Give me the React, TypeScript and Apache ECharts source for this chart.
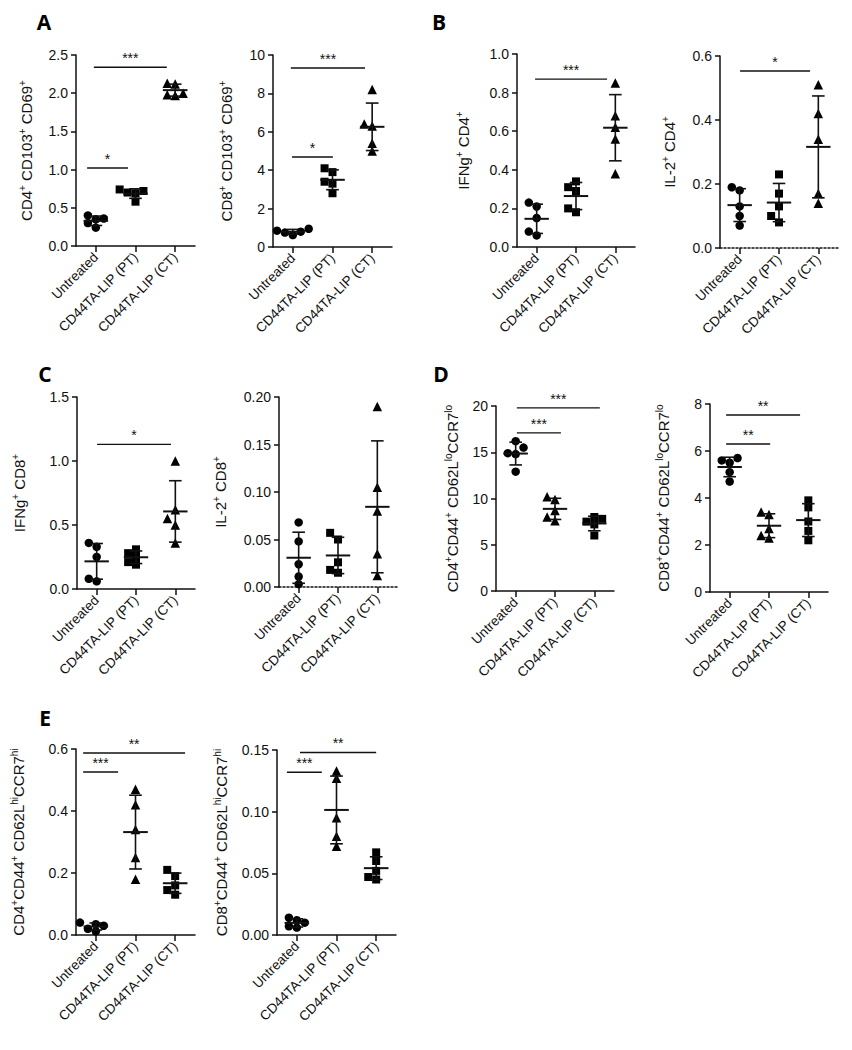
import React, { useEffect, useRef } from 'react';
import * as echarts from 'echarts';

const FONT = '"Liberation Sans", Arial, Helvetica, sans-serif';
const INK = '#111111';

const categories = ['Untreated', 'CD44TA-LIP (PT)', 'CD44TA-LIP (CT)'];

// Values per group: [Untreated, CD44TA-LIP (PT), CD44TA-LIP (CT)]
const cd4Cd103Cd69 = [
  [0.40, 0.36, 0.35, 0.30, 0.24],
  [0.74, 0.72, 0.70, 0.69, 0.58],
  [2.13, 2.12, 2.00, 1.98, 1.97],
];
const cd8Cd103Cd69 = [
  [0.95, 0.85, 0.80, 0.75, 0.62],
  [4.1, 3.9, 3.4, 3.3, 2.8],
  [8.2, 6.4, 6.3, 5.4, 5.0],
];
const ifngCd4 = [
  [0.23, 0.21, 0.15, 0.08, 0.06],
  [0.34, 0.31, 0.29, 0.20, 0.18],
  [0.85, 0.68, 0.62, 0.56, 0.38],
];
const il2Cd4 = [
  [0.19, 0.18, 0.13, 0.10, 0.07],
  [0.23, 0.17, 0.13, 0.10, 0.08],
  [0.51, 0.42, 0.34, 0.17, 0.14],
];
const ifngCd8 = [
  [0.36, 0.33, 0.25, 0.08, 0.06],
  [0.31, 0.28, 0.25, 0.21, 0.19],
  [1.00, 0.62, 0.55, 0.50, 0.36],
];
const il2Cd8 = [
  [0.068, 0.048, 0.024, 0.011, 0.003],
  [0.057, 0.050, 0.026, 0.018, 0.015],
  [0.190, 0.105, 0.080, 0.035, 0.012],
];
const cd4Lo = [
  [16.2, 15.5, 14.9, 14.8, 12.9],
  [10.2, 9.9, 8.7, 8.0, 7.6],
  [8.0, 7.8, 7.5, 7.2, 6.0],
];
const cd8Lo = [
  [5.7, 5.6, 5.5, 5.1, 4.7],
  [3.4, 3.3, 2.7, 2.4, 2.3],
  [3.9, 3.6, 3.0, 2.6, 2.2],
];
const cd4Hi = [
  [0.040, 0.035, 0.030, 0.020, 0.012],
  [0.47, 0.42, 0.34, 0.25, 0.18],
  [0.21, 0.19, 0.16, 0.145, 0.13],
];
const cd8Hi = [
  [0.014, 0.012, 0.010, 0.007, 0.006],
  [0.133, 0.127, 0.095, 0.080, 0.072],
  [0.067, 0.060, 0.052, 0.047, 0.045],
];

// y axis tick specs per panel (A1, A2, B1, B2, C1, C2, D1, D2, E1, E2)
const yMaxes = [2.5, 10, 1.0, 0.6, 1.5, 0.2, 20, 8, 0.6, 0.15];
const ySteps = [0.5, 2, 0.2, 0.2, 0.5, 0.05, 5, 2, 0.2, 0.05];
const yDecimals = [1, 0, 1, 1, 1, 2, 0, 0, 1, 2];

const yNames = [
  'CD4{s|+} CD103{s|+} CD69{s|+}',
  'CD8{s|+} CD103{s|+} CD69{s|+}',
  'IFNg{s|+} CD4{s|+}',
  'IL-2{s|+} CD4{s|+}',
  'IFNg{s|+} CD8{s|+}',
  'IL-2{s|+} CD8{s|+}',
  'CD4{s|+}CD44{s|+} CD62L{s|lo}CCR7{s|lo}',
  'CD8{s|+}CD44{s|+} CD62L{s|lo}CCR7{s|lo}',
  'CD4{s|+}CD44{s|+} CD62L{s|hi}CCR7{s|hi}',
  'CD8{s|+}CD44{s|+} CD62L{s|hi}CCR7{s|hi}',
];

// significance brackets: [from category, to category, y value, label]
const sigA1: [number, number, number, string][] = [[-0.05, 1.79, 2.34, '***'], [-0.22, 0.81, 1.02, '*']];
const sigA2: [number, number, number, string][] = [[-0.05, 1.82, 9.32, '***'], [-0.02, 1.01, 4.69, '*']];
const sigB1: [number, number, number, string][] = [[-0.04, 1.79, 0.87, '***']];
const sigB2: [number, number, number, string][] = [[0.01, 1.79, 0.553, '*']];
const sigC1: [number, number, number, string][] = [[0.01, 1.89, 1.13, '*']];
const sigC2: [number, number, number, string][] = [];
const sigD1: [number, number, number, string][] = [[0.03, 2.14, 19.8, '***'], [0.03, 1.15, 17.1, '***']];
const sigD2: [number, number, number, string][] = [[-0.09, 1.79, 7.53, '**'], [-0.09, 1.03, 6.3, '**']];
const sigE1: [number, number, number, string][] = [[-0.32, 2.25, 0.587, '**'], [-0.32, 0.56, 0.526, '***']];
const sigE2: [number, number, number, string][] = [[0.08, 2.0, 0.148, '**'], [-0.25, 0.63, 0.132, '***']];

const SYM_ABC = ['circle', 'rect', 'triangle'];
const SYM_DE = ['circle', 'triangle', 'rect'];

const panelLetters = [
  { t: 'A', x: 44, y: 22 },
  { t: 'B', x: 439, y: 22 },
  { t: 'C', x: 45, y: 374 },
  { t: 'D', x: 441, y: 374 },
  { t: 'E', x: 45, y: 718 },
];

const panels = [
  { data: cd4Cd103Cd69, sym: SYM_ABC, sig: sigA1, pos: [76, 55, 119, 191], gap: 41, dotted: false },
  { data: cd8Cd103Cd69, sym: SYM_ABC, sig: sigA2, pos: [273, 55, 119, 192], gap: 38, dotted: false },
  { data: ifngCd4, sym: SYM_ABC, sig: sigB1, pos: [517, 54, 118, 193], gap: 45, dotted: false },
  { data: il2Cd4, sym: SYM_ABC, sig: sigB2, pos: [720, 56, 118, 192], gap: 42, dotted: true },
  { data: ifngCd8, sym: SYM_ABC, sig: sigC1, pos: [77, 397, 118, 192], gap: 49, dotted: false },
  { data: il2Cd8, sym: SYM_ABC, sig: sigC2, pos: [279, 397, 118, 190], gap: 50, dotted: true },
  { data: cd4Lo, sym: SYM_DE, sig: sigD1, pos: [496, 406, 118, 185], gap: 35, dotted: false },
  { data: cd8Lo, sym: SYM_DE, sig: sigD2, pos: [710, 404, 118, 188], gap: 38, dotted: false },
  { data: cd4Hi, sym: SYM_DE, sig: sigE1, pos: [76, 749, 119, 186], gap: 49, dotted: false },
  { data: cd8Hi, sym: SYM_DE, sig: sigE2, pos: [277, 750, 119, 185], gap: 47, dotted: false },
];

function meanSd(v: number[]) {
  const m = v.reduce((a, b) => a + b, 0) / v.length;
  const s = Math.sqrt(v.reduce((a, b) => a + (b - m) * (b - m), 0) / (v.length - 1));
  return [m, s];
}

// simple beeswarm: spread overlapping points sideways (offsets in category units)
function swarm(vals: number[], pxPerUnit: number, band: number, size = 7) {
  const order = vals.map((_, i) => i).sort((a, b) => vals[a] - vals[b]);
  const step = 0.2;
  const cands = [0, -step, step, -2 * step, 2 * step];
  const offs: number[] = new Array(vals.length).fill(0);
  const placed: number[] = [];
  for (const i of order) {
    let chosen = 0;
    for (const c of cands) {
      const ok = placed.every((j) => {
        const dx = (c - offs[j]) * band;
        const dy = (vals[i] - vals[j]) * pxPerUnit;
        return Math.sqrt(dx * dx + dy * dy) >= size;
      });
      if (ok) { chosen = c; break; }
    }
    offs[i] = chosen;
    placed.push(i);
  }
  return offs;
}

function buildOption() {
  const grid: any[] = [];
  const xAxis: any[] = [];
  const yAxis: any[] = [];
  const series: any[] = [];

  panels.forEach((p, k) => {
    const [left, top, width, height] = p.pos;
    grid.push({ left, top, width, height, containLabel: false });
    xAxis.push({
      type: 'category',
      gridIndex: k,
      data: categories,
      boundaryGap: true,
      axisLine: { show: true, onZero: false, lineStyle: { color: INK, width: 1.5, type: p.dotted ? [2, 2] : 'solid' } },
      axisTick: { show: true, alignWithLabel: true, length: 6, lineStyle: { color: INK, width: 1.5, type: 'solid' } },
      axisLabel: { rotate: 45, interval: 0, fontSize: 13.5, margin: 9, color: INK, fontFamily: FONT },
      splitLine: { show: false },
    });
    xAxis.push({ type: 'value', gridIndex: k, min: -0.5, max: 2.5, show: false, position: 'bottom' });
    yAxis.push({
      type: 'value',
      gridIndex: k,
      position: 'left',
      min: 0,
      max: yMaxes[k],
      interval: ySteps[k],
      name: yNames[k],
      nameLocation: 'middle',
      nameGap: p.gap,
      nameTextStyle: {
        fontSize: 15, color: INK, fontFamily: FONT, lineHeight: 18,
        rich: { s: { fontSize: 10, lineHeight: 8, verticalAlign: 'top', color: INK, fontFamily: FONT } },
      },
      axisLine: { show: true, onZero: false, lineStyle: { color: INK, width: 1.5 } },
      axisTick: { show: true, length: 5, lineStyle: { color: INK, width: 1.5 } },
      axisLabel: {
        fontSize: 14, color: INK, fontFamily: FONT, margin: 8,
        formatter: (v: number) => v.toFixed(yDecimals[k]),
      },
      splitLine: { show: false },
    });

    const band = width / 3;
    const pxPerUnit = height / yMaxes[k];
    const valueX = 2 * k + 1;

    p.data.forEach((vals, g) => {
      const offs = swarm(vals, pxPerUnit, band);
      series.push({
        type: 'scatter',
        xAxisIndex: valueX,
        yAxisIndex: k,
        symbol: p.sym[g],
        symbolSize: p.sym[g] === 'triangle' ? 9.5 : p.sym[g] === 'rect' ? 8 : 8.5,
        itemStyle: { color: '#000', opacity: 1 },
        data: vals.map((v, i) => [g + offs[i], v]),
        z: 2,
      });
    });

    const stats = p.data.map((vals, g) => { const [m, s] = meanSd(vals); return [g, m, s]; });
    series.push({
      type: 'custom',
      xAxisIndex: valueX,
      yAxisIndex: k,
      z: 3,
      data: stats,
      renderItem: (params: any, api: any) => {
        const i = api.value(0), m = api.value(1), sd = api.value(2);
        const c = api.coord([i, m]);
        const t = api.coord([i, m + sd]);
        const b = api.coord([i, m - sd]);
        const bw = api.size([1, 0])[0];
        const hm = bw * 0.31, hc = bw * 0.16;
        const st = { stroke: INK, lineWidth: 1.6 };
        return {
          type: 'group',
          children: [
            { type: 'line', shape: { x1: c[0] - hm, y1: c[1], x2: c[0] + hm, y2: c[1] }, style: { stroke: INK, lineWidth: 2 } },
            { type: 'line', shape: { x1: c[0], y1: t[1], x2: c[0], y2: b[1] }, style: st },
            { type: 'line', shape: { x1: c[0] - hc, y1: t[1], x2: c[0] + hc, y2: t[1] }, style: st },
            { type: 'line', shape: { x1: c[0] - hc, y1: b[1], x2: c[0] + hc, y2: b[1] }, style: st },
          ],
        };
      },
    });

    if (p.sig.length) {
      const sig = p.sig;
      series.push({
        type: 'custom',
        xAxisIndex: valueX,
        yAxisIndex: k,
        z: 3,
        clip: false,
        data: sig.map((s) => [s[0], s[1], s[2]]),
        renderItem: (params: any, api: any) => {
          const a = api.coord([api.value(0), api.value(2)]);
          const b = api.coord([api.value(1), api.value(2)]);
          return {
            type: 'group',
            children: [
              { type: 'line', shape: { x1: a[0], y1: a[1], x2: b[0], y2: b[1] }, style: { stroke: INK, lineWidth: 1.4 } },
              {
                type: 'text', x: (a[0] + b[0]) / 2, y: a[1] - 2,
                style: { text: sig[params.dataIndex][3], align: 'center', verticalAlign: 'bottom', fontSize: 14, fill: INK, fontFamily: FONT },
              },
            ],
          };
        },
      });
    }
  });

  const graphic = panelLetters.map((l) => ({
    type: 'text',
    x: l.x,
    y: l.y,
    style: { text: l.t, fontSize: 21, fontWeight: 'bold', fill: '#000', fontFamily: '"Open Sans", "Liberation Sans", sans-serif', align: 'center', verticalAlign: 'middle' },
  }));

  return {
    animation: false,
    backgroundColor: '#ffffff',
    grid,
    xAxis,
    yAxis,
    series,
    graphic,
  };
}

export default function App() {
  const ref = useRef<HTMLDivElement>(null);
  useEffect(() => {
    if (!ref.current) return;
    const chart = echarts.init(ref.current, undefined, { renderer: 'svg' });
    chart.setOption(buildOption() as any);
    return () => chart.dispose();
  }, []);
  return (
    <div
      ref={ref}
      style={{ position: 'absolute', left: 0, top: 0, width: 852, height: 1050, background: '#fff' }}
    />
  );
}
